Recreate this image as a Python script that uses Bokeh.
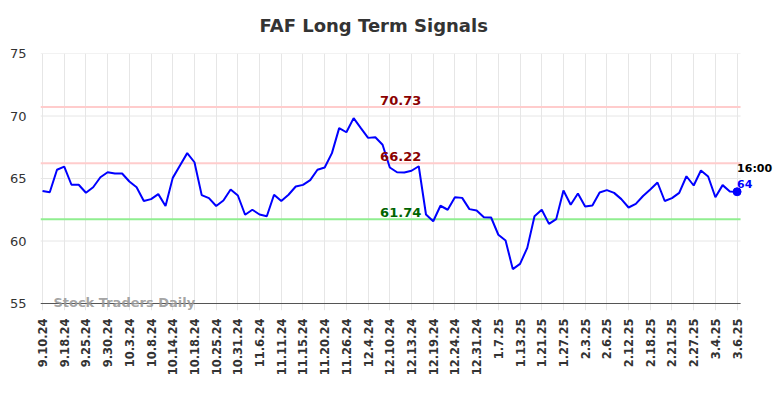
import math
from bokeh.plotting import figure
from bokeh.models import FixedTicker, ColumnDataSource, Label, Title
from bokeh.embed import file_html
from bokeh.resources import INLINE

title = "FAF Long Term Signals"
values = [64.0, 63.9, 65.7, 65.95, 64.5, 64.5, 63.86, 64.3, 65.1, 65.5,
          65.4, 65.4, 64.76, 64.3, 63.2, 63.35, 63.75, 62.8, 65.05, 66.04,
          67.03, 66.3, 63.67, 63.43, 62.8, 63.24, 64.12, 63.64, 62.1, 62.5,
          62.12, 61.98, 63.7, 63.2, 63.7, 64.36, 64.49, 64.87, 65.7, 65.88,
          67.03, 69.03, 68.7, 69.83, 69.03, 68.25, 68.3, 67.7, 65.88, 65.5,
          65.48, 65.62, 65.98, 62.12, 61.58, 62.82, 62.5, 63.5, 63.45, 62.55,
          62.44, 61.9, 61.88, 60.5, 60.04, 57.75, 58.17, 59.45, 61.98, 62.5,
          61.37, 61.75, 64.04, 62.9, 63.8, 62.76, 62.84, 63.88, 64.07, 63.85,
          63.35, 62.68, 62.97, 63.6, 64.12, 64.68, 63.2, 63.43, 63.85, 65.18,
          64.44, 65.64, 65.16, 63.5, 64.47, 63.96, 63.94]
tick_labels = ["9.10.24", "9.18.24", "9.25.24", "9.30.24", "10.3.24", "10.8.24",
               "10.14.24", "10.18.24", "10.25.24", "10.31.24", "11.6.24", "11.11.24",
               "11.15.24", "11.20.24", "11.26.24", "12.4.24", "12.10.24", "12.13.24",
               "12.19.24", "12.24.24", "12.31.24", "1.7.25", "1.13.25", "1.21.25",
               "1.27.25", "2.3.25", "2.6.25", "2.12.25", "2.18.25", "2.21.25",
               "2.27.25", "3.4.25", "3.6.25"]
tick_step = 3
levels = [70.73, 66.22, 61.74]
level_line_colors = ["#ffcccc", "#ffcccc", "#90ee90"]
level_text_colors = ["#8b0000", "#8b0000", "#006400"]
last_time = "16:00"
last_label = "64"
watermark = "Stock Traders Daily"
y_ticks = [55, 60, 65, 70, 75]

FONT = "DejaVu Sans"
xs = list(range(len(values)))
tick_pos = [i * tick_step for i in range(len(tick_labels))]

# visible chart area (x in index units, y in value units)
x_lo, x_hi = -0.28, len(values) - 1 + 0.48
y_lo, y_hi = y_ticks[0], y_ticks[-1]

p = figure(width=784, height=398, output_backend="svg", toolbar_location=None,
           x_range=(x_lo, len(values) - 1 + 6.0), y_range=(y_lo - 0.56, y_hi),
           min_border_left=40, min_border_right=4, min_border_top=53,
           min_border_bottom=88)
p.outline_line_color = None
p.background_fill_color = "white"

p.title.text = title
p.title.align = "left"
p.title.offset = 219
p.title.text_font = FONT
p.title.text_font_size = "18px"
p.title.text_color = "#333333"

# empty spacer title between the real title and the chart
p.add_layout(Title(text=" ", text_font_size="1px"), "above")

p.xaxis.ticker = FixedTicker(ticks=tick_pos)
p.xaxis.major_label_overrides = {pos: lab for pos, lab in zip(tick_pos, tick_labels)}
p.xaxis.major_label_orientation = math.pi / 2
p.xaxis.major_label_text_font = FONT
p.xaxis.major_label_text_font_style = "bold"
p.xaxis.major_label_text_font_size = "11.5px"
p.xaxis.major_label_text_color = "#333333"
p.xaxis.axis_line_color = None
p.xaxis.major_tick_line_color = None
p.xaxis.minor_tick_line_color = None
p.xaxis.major_tick_out = 0
p.xaxis.major_tick_in = 0
p.xaxis.major_label_standoff = 8

p.yaxis.ticker = FixedTicker(ticks=y_ticks)
p.yaxis.major_label_text_font = FONT
p.yaxis.major_label_text_font_size = "13px"
p.yaxis.major_label_text_color = "#333333"
p.yaxis.axis_line_color = None
p.yaxis.major_tick_line_color = None
p.yaxis.minor_tick_line_color = None
p.yaxis.major_label_standoff = 8

p.xgrid.ticker = FixedTicker(ticks=tick_pos)
p.xgrid.grid_line_color = "#e6e6e6"
p.xgrid.bounds = (x_lo, x_hi)
p.ygrid.grid_line_color = None

# horizontal grid lines limited to the chart area
p.segment(x0=[x_lo] * len(y_ticks), x1=[x_hi] * len(y_ticks), y0=y_ticks, y1=y_ticks,
          line_color="#e6e6e6", line_width=1)

mid = (len(values) - 1) / 2 + 1.5
for lv, lc, tc in zip(levels, level_line_colors, level_text_colors):
    p.segment(x0=[x_lo], x1=[x_hi], y0=[lv], y1=[lv], line_color=lc, line_width=2)
    p.add_layout(Label(x=mid, y=lv, text=f"{lv:.2f}", text_align="center",
                       text_baseline="bottom", y_offset=2, text_font=FONT,
                       text_font_style="bold", text_font_size="13px", text_color=tc))

# bottom axis line
p.segment(x0=[x_lo], x1=[x_hi], y0=[y_lo], y1=[y_lo], line_color="#555555", line_width=1)

src = ColumnDataSource(dict(x=xs, y=values))
p.line("x", "y", source=src, line_color="#0000ff", line_width=2)
p.scatter([xs[-1]], [values[-1]], size=8, color="#0000ff")

p.add_layout(Label(x=xs[-1], y=values[-1], text=last_time, text_align="left",
                   text_baseline="middle", y_offset=23, text_font=FONT,
                   text_font_style="bold", text_font_size="11px", text_color="#000000"))
p.add_layout(Label(x=xs[-1], y=values[-1], text=last_label, text_align="left",
                   text_baseline="middle", y_offset=8, text_font=FONT,
                   text_font_style="bold", text_font_size="11px", text_color="#0000ff"))

p.add_layout(Label(x=1.5, y=y_lo, text=watermark, text_align="left",
                   text_baseline="middle", y_offset=1, text_font=FONT,
                   text_font_style="bold", text_font_size="13px", text_color="#999999",
                   text_alpha=0.9))

open("out.html", "w").write(file_html(p, INLINE))
